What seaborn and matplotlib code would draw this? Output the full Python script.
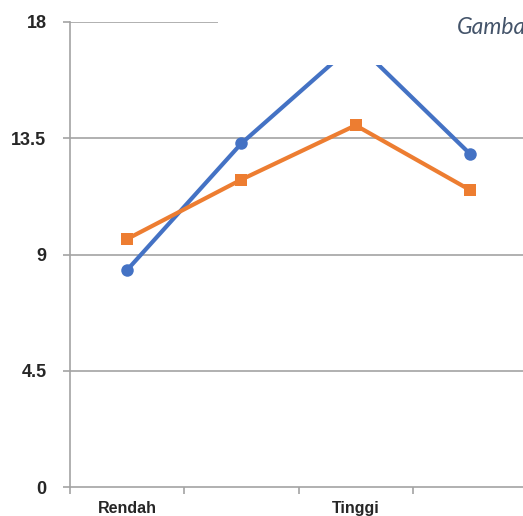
import matplotlib
matplotlib.use("Agg")
import matplotlib.pyplot as plt
from matplotlib.patches import Rectangle
import seaborn as sns
import pandas as pd

# Category axis and series values
categories = ["Rendah", "", "Tinggi", ""]
series_a = [8.4, 13.3, 17.2, 12.9]
series_b = [9.6, 11.9, 14.0, 11.5]
y_ticks = [0, 4.5, 9, 13.5, 18]
y_tick_labels = ["0", "4.5", "9", "13.5", "18"]
caption = "Gambar"

pos = list(range(len(categories)))
df = pd.DataFrame({
    "pos": pos * 2,
    "nilai": series_a + series_b,
    "seri": ["A"] * len(pos) + ["B"] * len(pos),
})

sns.set_style("white")
plt.rcParams["font.family"] = ["Liberation Sans", "DejaVu Sans"]

fig = plt.figure(figsize=(5.23, 5.16), dpi=100)
ax = fig.add_axes([70 / 523, 29 / 516, 457 / 523, 465 / 516])

grid_c = "#a3a3a3"
for yv in y_ticks[1:]:
    ax.axhline(yv, color=grid_c, lw=1.2, zorder=1)

palette = {"A": "#4472c4", "B": "#ed7d31"}
sns.lineplot(data=df, x="pos", y="nilai", hue="seri", style="seri",
             markers={"A": "o", "B": "s"}, dashes=False, palette=palette,
             linewidth=3, markersize=9, markeredgewidth=0,
             legend=False, ax=ax, zorder=3)

ax.set_xlim(-0.5, len(categories) - 0.5)
ax.set_ylim(0, 18)
ax.set_xlabel("")
ax.set_ylabel("")

# y axis
ax.set_yticks(y_ticks)
ax.set_yticklabels(y_tick_labels, fontsize=13, fontweight="bold")
ax.tick_params(axis="y", length=5, width=1.2, color=grid_c, pad=12, left=True)

# x axis: ticks at category boundaries, labels at category centres
ax.set_xticks([p - 0.5 for p in pos] + [len(pos) - 0.5])
ax.set_xticklabels([])
ax.set_xticks(pos, minor=True)
ax.set_xticklabels(categories, minor=True, fontsize=11.5, fontweight="bold")
ax.tick_params(axis="x", which="major", length=5, width=1.2, color=grid_c, bottom=True)
ax.tick_params(axis="x", which="minor", length=0, pad=10)

for side in ["top", "right"]:
    ax.spines[side].set_visible(False)
for side in ["left", "bottom"]:
    ax.spines[side].set_color(grid_c)
    ax.spines[side].set_linewidth(1.2)

# blank panel at the top right holding the caption
fig.add_artist(Rectangle((218 / 523, 1 - 65 / 516), 1, 65 / 516,
                         transform=fig.transFigure, facecolor="white",
                         edgecolor="none", zorder=10))
fig.text(457 / 523, 1 - 34 / 516, caption, fontsize=16.5, style="italic",
         color="#44546a", family=["Lato", "DejaVu Sans"], zorder=11)

fig.savefig("out.png", dpi=100)
